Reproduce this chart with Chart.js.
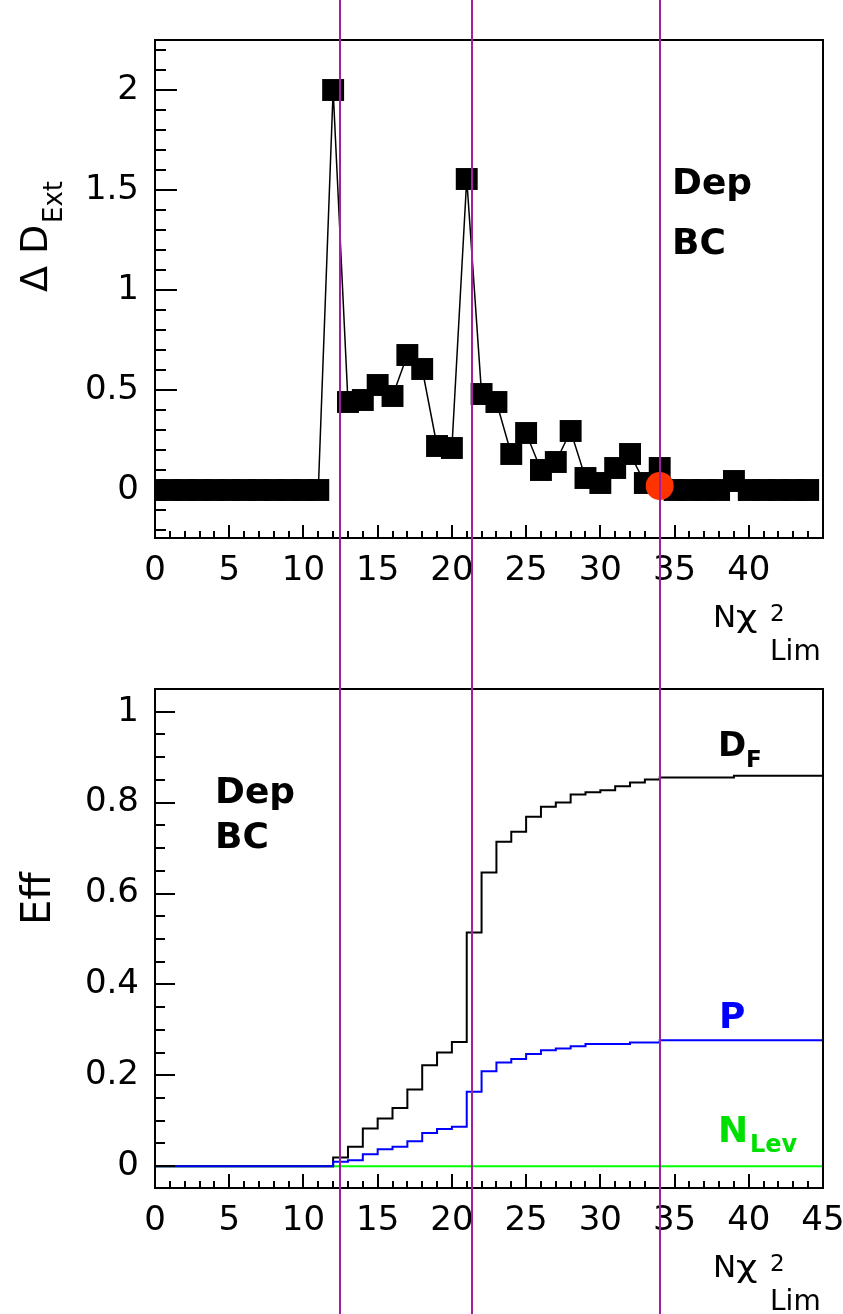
<!DOCTYPE html>
<html>
<head>
<meta charset="utf-8">
<script src="https://cdn.jsdelivr.net/npm/chart.js@4.4.1/dist/chart.umd.min.js"></script>
<style>
  html, body { margin: 0; padding: 0; background: #fff; }
  #wrap { position: relative; width: 843px; height: 1314px; overflow: hidden; }
  canvas { position: absolute; left: 0; }
</style>
</head>
<body>
<div id="wrap">
  <canvas id="top" width="843" height="660" style="top:0px"></canvas>
  <canvas id="bot" width="843" height="654" style="top:660px"></canvas>
</div>
<script>
// N chi2 limit (bin low edges / point positions)
var nChi = [0, 1, 2, 3, 4, 5, 6, 7, 8, 9, 10, 11, 12, 13, 14, 15, 16, 17, 18, 19, 20, 21,
  22, 23, 24, 25, 26, 27, 28, 29, 30, 31, 32, 33, 34, 35, 36, 37, 38, 39, 40, 41, 42, 43, 44];

// top panel : Delta D_Ext
var dExt = [0, 0, 0, 0, 0, 0, 0, 0, 0, 0, 0, 0,
  2.0, 0.44, 0.45, 0.525, 0.47, 0.675, 0.605, 0.22, 0.21, 1.555, 0.48, 0.44, 0.18, 0.285,
  0.10, 0.14, 0.295, 0.06, 0.035, 0.11, 0.18, 0.035, 0.11, 0, 0, 0, 0, 0.045, 0, 0, 0, 0, 0];
var bestCut = [34];
var bestDExt = [0.02];

// bottom panel : efficiencies
var effDF = [0, 0, 0, 0, 0, 0, 0, 0, 0, 0, 0, 0,
  0.019, 0.043, 0.083, 0.105, 0.128, 0.169, 0.222, 0.25, 0.273, 0.514, 0.646, 0.714, 0.736,
  0.769, 0.791, 0.80, 0.818, 0.823, 0.827, 0.836, 0.844, 0.851, 0.855, 0.855, 0.855, 0.855,
  0.855, 0.859, 0.859, 0.859, 0.859, 0.859, 0.859];
var effP = [0, 0, 0, 0, 0, 0, 0, 0, 0, 0, 0, 0,
  0.01, 0.013, 0.026, 0.037, 0.043, 0.055, 0.073, 0.082, 0.087, 0.164, 0.209, 0.228, 0.236,
  0.247, 0.255, 0.259, 0.264, 0.269, 0.269, 0.269, 0.272, 0.272, 0.277, 0.277, 0.277, 0.277,
  0.277, 0.277, 0.277, 0.277, 0.277, 0.277, 0.277];
var effNLev = [0, 0, 0, 0, 0, 0, 0, 0, 0, 0, 0, 0, 0, 0, 0, 0, 0, 0, 0, 0, 0, 0,
  0, 0, 0, 0, 0, 0, 0, 0, 0, 0, 0, 0, 0, 0, 0, 0, 0, 0, 0, 0, 0, 0, 0];

// vertical cut lines
var cutLines = [12.45, 21.35, 34.0];

// ticks
var xTickVals = [0, 5, 10, 15, 20, 25, 30, 35, 40, 45];
var xTopLabels = ['0', '5', '10', '15', '20', '25', '30', '35', '40', ''];
var xBotLabels = ['0', '5', '10', '15', '20', '25', '30', '35', '40', '45'];
var yTopTickVals = [0, 0.5, 1, 1.5, 2];
var yTopLabels = ['0', '0.5', '1', '1.5', '2'];
var yBotTickVals = [0, 0.2, 0.4, 0.6, 0.8, 1];
var yBotLabels = ['0', '0.2', '0.4', '0.6', '0.8', '1'];

var PURPLE = '#a020a0';
var TICKFONT = { family: 'DejaVu Sans', size: 34 };

function points(xs, ys) {
  return ys.map(function (v, i) { return { x: xs[i], y: v }; });
}
// histogram: low edges + closing upper edge
function histPoints(xs, ys) {
  var p = points(xs, ys);
  p.push({ x: xs[xs.length - 1] + 1, y: ys[ys.length - 1] });
  return p;
}

function isMult(v, step) {
  var r = v / step;
  return Math.abs(r - Math.round(r)) < 1e-6;
}

function txt(ctx, s, x, y, size, color, bold, sx) {
  ctx.save();
  ctx.font = (bold ? 'bold ' : '') + size + 'px "DejaVu Sans"';
  ctx.fillStyle = color || '#000';
  ctx.translate(x, y);
  if (sx) ctx.scale(sx, 1);
  ctx.fillText(s, 0, 0);
  ctx.restore();
}

// N chi^2_Lim axis title, baseline of N at (x, y)
function chiTitle(ctx, x, y) {
  txt(ctx, 'N', x, y, 31);
  txt(ctx, '\u03c7', x + 23, y, 31, '#000', false, 1.2);
  txt(ctx, '2', x + 57, y - 6, 23);
  txt(ctx, 'Lim', x + 57, y + 33, 28);
}

var rootFrame = {
  id: 'rootFrame',
  afterDraw: function (chart, args, o) {
    var ctx = chart.ctx, a = chart.chartArea;
    var xs = chart.scales.x, ys = chart.scales.y;
    var k, v, px, len;
    ctx.save();
    ctx.strokeStyle = '#000';
    ctx.lineWidth = 2;
    ctx.beginPath();
    for (k = Math.ceil(xs.min / o.xMinor - 1e-9); k * o.xMinor <= xs.max + 1e-9; k++) {
      v = k * o.xMinor;
      px = Math.round(xs.getPixelForValue(v));
      len = isMult(v, o.xMajor) ? o.xMajorLen : o.xMinorLen;
      ctx.moveTo(px, a.bottom);
      ctx.lineTo(px, a.bottom - len);
    }
    for (k = Math.ceil(ys.min / o.yMinor - 1e-9); k * o.yMinor <= ys.max + 1e-9; k++) {
      v = k * o.yMinor;
      px = Math.round(ys.getPixelForValue(v));
      len = isMult(v, o.yMajor) ? o.yMajorLen : o.yMinorLen;
      ctx.moveTo(a.left, px);
      ctx.lineTo(a.left + len, px);
    }
    ctx.stroke();
    ctx.strokeRect(a.left, a.top, a.right - a.left, a.bottom - a.top);

    // labels
    ctx.textAlign = 'left';
    ctx.textBaseline = 'alphabetic';
    o.draw(ctx);

    // cut lines across the whole page
    ctx.strokeStyle = PURPLE;
    ctx.lineWidth = 2;
    ctx.beginPath();
    cutLines.forEach(function (c) {
      var x = Math.round(xs.getPixelForValue(c));
      ctx.moveTo(x, 0);
      ctx.lineTo(x, chart.height);
    });
    ctx.stroke();
    ctx.restore();
  }
};

function xScale(labels, h) {
  return {
    type: 'linear', min: 0, max: 45,
    grid: { display: false, drawTicks: false },
    border: { display: false },
    afterBuildTicks: function (s) { s.ticks = xTickVals.map(function (v) { return { value: v }; }); },
    afterFit: function (s) { s.height = h; s.paddingLeft = 0; s.paddingRight = 0; },
    ticks: {
      font: TICKFONT, color: '#000', padding: 13, maxRotation: 0, autoSkip: false,
      callback: function (v, i) { return labels[i]; }
    }
  };
}
function yScale(min, max, vals, labels) {
  return {
    type: 'linear', min: min, max: max,
    grid: { display: false, drawTicks: false },
    border: { display: false },
    afterBuildTicks: function (s) { s.ticks = vals.map(function (v) { return { value: v }; }); },
    afterFit: function (s) { s.width = 155; s.paddingTop = 0; s.paddingBottom = 0; },
    ticks: {
      font: TICKFONT, color: '#000', padding: 16, autoSkip: false,
      callback: function (v, i) { return labels[i]; }
    }
  };
}

// ---------- top panel ----------
new Chart(document.getElementById('top'), {
  type: 'line',
  data: {
    datasets: [
      {
        data: points(bestCut, bestDExt), order: 0, showLine: false,
        pointStyle: 'circle', pointRadius: 14, pointBackgroundColor: '#ff3300', pointBorderWidth: 0
      },
      {
        data: points(nChi, dExt), order: 1, borderColor: '#000', borderWidth: 1.5, tension: 0,
        pointStyle: 'rect', pointRadius: 15.5, pointBackgroundColor: '#000',
        pointBorderColor: '#000', pointBorderWidth: 0
      }
    ]
  },
  options: {
    responsive: false, animation: false, devicePixelRatio: 1, events: [],
    layout: { padding: { top: 40, right: 20, left: 0, bottom: 0 } },
    plugins: {
      legend: { display: false }, tooltip: { enabled: false },
      rootFrame: {
        xMinor: 1, xMajor: 5, xMinorLen: 7, xMajorLen: 13,
        yMinor: 0.1, yMajor: 0.5, yMinorLen: 11, yMajorLen: 22,
        draw: function (ctx) {
          txt(ctx, 'Dep', 672, 194, 36, '#000', true);
          txt(ctx, 'BC', 672, 254, 36, '#000', true);
          chiTitle(ctx, 713, 627);
          ctx.save();
          ctx.translate(47, 292);
          ctx.rotate(-Math.PI / 2);
          txt(ctx, '\u0394 D', 0, 0, 38);
          txt(ctx, 'Ext', 69, 15, 26);
          ctx.restore();
        }
      }
    },
    scales: {
      x: xScale(xTopLabels, 122),
      y: yScale(-0.24, 2.25, yTopTickVals, yTopLabels)
    }
  },
  plugins: [rootFrame]
});

// ---------- bottom panel ----------
new Chart(document.getElementById('bot'), {
  type: 'line',
  data: {
    datasets: [
      { data: histPoints(nChi, effP), order: 0, borderColor: '#0000ff', borderWidth: 2, stepped: 'before', pointRadius: 0 },
      { data: histPoints(nChi, effDF), order: 1, borderColor: '#000', borderWidth: 2, stepped: 'before', pointRadius: 0 },
      { data: histPoints(nChi, effNLev), order: 2, borderColor: '#00ff00', borderWidth: 2, stepped: 'before', pointRadius: 0 }
    ]
  },
  options: {
    responsive: false, animation: false, devicePixelRatio: 1, events: [],
    layout: { padding: { top: 29, right: 20, left: 0, bottom: 0 } },
    plugins: {
      legend: { display: false }, tooltip: { enabled: false },
      rootFrame: {
        xMinor: 1, xMajor: 5, xMinorLen: 7, xMajorLen: 14,
        yMinor: 0.05, yMajor: 0.2, yMinorLen: 10, yMajorLen: 20,
        draw: function (ctx) {
          txt(ctx, 'Dep', 215, 143, 36, '#000', true);
          txt(ctx, 'BC', 215, 188, 36, '#000', true);
          txt(ctx, 'D', 718, 96, 34, '#000', true);
          txt(ctx, 'F', 746, 107, 23, '#000', true);
          txt(ctx, 'P', 719, 368, 36, '#0000ff', true);
          txt(ctx, 'N', 718, 482, 36, '#00e000', true);
          txt(ctx, 'Lev', 750, 492, 24, '#00e000', true);
          chiTitle(ctx, 713, 617);
          ctx.save();
          ctx.translate(50, 265);
          ctx.rotate(-Math.PI / 2);
          txt(ctx, 'Eff', 0, 0, 40);
          ctx.restore();
        }
      }
    },
    scales: {
      x: xScale(xBotLabels, 126),
      y: yScale(-0.048, 1.05, yBotTickVals, yBotLabels)
    }
  },
  plugins: [rootFrame]
});
</script>
</body>
</html>
